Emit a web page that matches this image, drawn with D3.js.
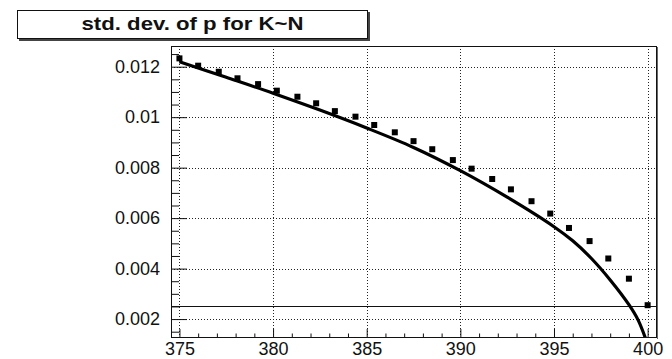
<!DOCTYPE html>
<html>
<head>
<meta charset="utf-8">
<script src="https://cdn.jsdelivr.net/npm/d3@7"></script>
<style>
  body { margin: 0; background: #fff; }
  svg { display: block; }
  text { font-family: "Liberation Sans", Arial, Helvetica, sans-serif; fill: #111; }
</style>
</head>
<body>
<div id="chart"></div>
<script>
// values
const titleText = 'std. dev. of p for K~N';

const pointK = [375.0, 376.0, 377.1, 378.1, 379.2, 380.2, 381.3, 382.3, 383.3, 384.4,
                385.4, 386.5, 387.5, 388.5, 389.6, 390.6, 391.7, 392.7, 393.8, 394.8,
                395.8, 396.9, 397.9, 399.0, 400.0];
const pointSigma = [0.01233, 0.01204, 0.0118, 0.01154, 0.01131, 0.01105, 0.01081, 0.01055, 0.01024, 0.01002,
                    0.00969, 0.0094, 0.00905, 0.00873, 0.0083, 0.00796, 0.00755, 0.00714, 0.00667, 0.00618,
                    0.00561, 0.00509, 0.0044, 0.0036, 0.00255];

const curveK = [375, 377.5, 380, 382.5, 385, 387.5, 390, 392.5, 395, 396, 397, 398, 399, 399.5, 400];
const curveSigma = [0.0122, 0.01158, 0.01095, 0.01028, 0.00957, 0.0088, 0.00788, 0.00683, 0.00566,
                    0.0051, 0.0044, 0.00355, 0.00257, 0.00195, 0.001];

const refLevel = 0.00253;

const xTicks = [375, 380, 385, 390, 395, 400];
const yTicks = [0.002, 0.004, 0.006, 0.008, 0.01, 0.012];
const yTickLabels = ['0.002', '0.004', '0.006', '0.008', '0.01', '0.012'];

const W = 672, H = 359;
const margin = {top: 46, right: 15, bottom: 21, left: 171};
const innerW = W - margin.left - margin.right;
const innerH = H - margin.top - margin.bottom;

const svg = d3.select('#chart').append('svg').attr('width', W).attr('height', H);

// title box with shadow
svg.append('rect').attr('x', 19).attr('y', 12).attr('width', 351).attr('height', 29).attr('fill', '#444');
svg.append('rect').attr('x', 17.5).attr('y', 10.5).attr('width', 350).attr('height', 28)
  .attr('fill', '#fff').attr('stroke', '#111').attr('stroke-width', 1);
svg.append('text').attr('x', 192.5).attr('y', 29.5).attr('text-anchor', 'middle')
  .attr('font-size', 19).attr('font-weight', 'bold').attr('textLength', 222).attr('lengthAdjust', 'spacingAndGlyphs')
  .text(titleText);

const g = svg.append('g').attr('transform', `translate(${margin.left},${margin.top})`);

const x = d3.scaleLinear().domain([374.55, 400.5]).range([0, innerW]);
const y = d3.scaleLinear().domain([0.00125, 0.01282]).range([innerH, 0]);

g.append('clipPath').attr('id', 'clip').append('rect').attr('width', innerW).attr('height', innerH);

// dotted grid
const gridG = g.append('g').attr('stroke', '#222').attr('stroke-width', 1).attr('stroke-dasharray', '1 2');
gridG.selectAll('line.gx').data(xTicks).join('line').attr('class', 'gx')
  .attr('x1', d => Math.round(x(d)) + 0.5).attr('x2', d => Math.round(x(d)) + 0.5)
  .attr('y1', 0).attr('y2', innerH);
gridG.selectAll('line.gy').data(yTicks).join('line').attr('class', 'gy')
  .attr('y1', d => Math.round(y(d)) + 0.5).attr('y2', d => Math.round(y(d)) + 0.5)
  .attr('x1', 0).attr('x2', innerW);

// minor ticks
const xMinor = d3.range(375, 401, 1).filter(v => !xTicks.includes(v));
const yMinor = d3.range(0.0015, 0.0128, 0.0005).filter(v => !yTicks.some(t => Math.abs(t - v) < 1e-9));

const xAxisMinor = d3.axisBottom(x).tickValues(xMinor).tickSize(-4.5).tickFormat('');
const yAxisMinor = d3.axisLeft(y).tickValues(yMinor).tickSize(-8).tickFormat('');
g.append('g').attr('transform', `translate(0,${innerH})`).call(xAxisMinor).call(s => s.select('.domain').remove());
g.append('g').call(yAxisMinor).call(s => s.select('.domain').remove());

const xAxis = d3.axisBottom(x).tickValues(xTicks).tickSize(-9).tickPadding(4).tickFormat(d3.format('d'));
const yAxis = d3.axisLeft(y).tickValues(yTicks).tickSize(-16).tickPadding(11).tickFormat((d, i) => yTickLabels[i]);
g.append('g').attr('class', 'x-axis').attr('transform', `translate(0,${innerH})`).call(xAxis)
  .call(s => s.select('.domain').remove());
g.append('g').attr('class', 'y-axis').call(yAxis).call(s => s.select('.domain').remove());
g.selectAll('.tick text').attr('font-size', 18).attr('font-family', '"Liberation Sans", Arial, sans-serif').attr('fill', '#111');
g.selectAll('.tick line').attr('stroke', '#111');

// reference line
g.append('line').attr('x1', 0).attr('x2', innerW)
  .attr('y1', Math.round(y(refLevel)) + 0.5).attr('y2', Math.round(y(refLevel)) + 0.5)
  .attr('stroke', '#111').attr('stroke-width', 1.2);

// points
const pts = pointK.map((k, i) => ({k, v: pointSigma[i]}));
g.append('g').selectAll('rect').data(pts).join('rect')
  .attr('x', d => x(d.k) - 3).attr('y', d => y(d.v) - 3)
  .attr('width', 6).attr('height', 6).attr('fill', '#000');

// curve
const curve = curveK.map((k, i) => ({k, v: curveSigma[i]}));
const line = d3.line().x(d => x(d.k)).y(d => y(d.v)).curve(d3.curveCatmullRom.alpha(0.5));
g.append('path').datum(curve).attr('clip-path', 'url(#clip)')
  .attr('fill', 'none').attr('stroke', '#000').attr('stroke-width', 3.2).attr('d', line);

// frame
g.append('rect').attr('x', 0.5).attr('y', 0.5).attr('width', innerW - 1).attr('height', innerH - 1)
  .attr('fill', 'none').attr('stroke', '#111').attr('stroke-width', 1);
g.append('line').attr('x1', innerW + 0.5).attr('x2', innerW + 0.5).attr('y1', 1).attr('y2', innerH + 1)
  .attr('stroke', '#666').attr('stroke-width', 1);
</script>
</body>
</html>
